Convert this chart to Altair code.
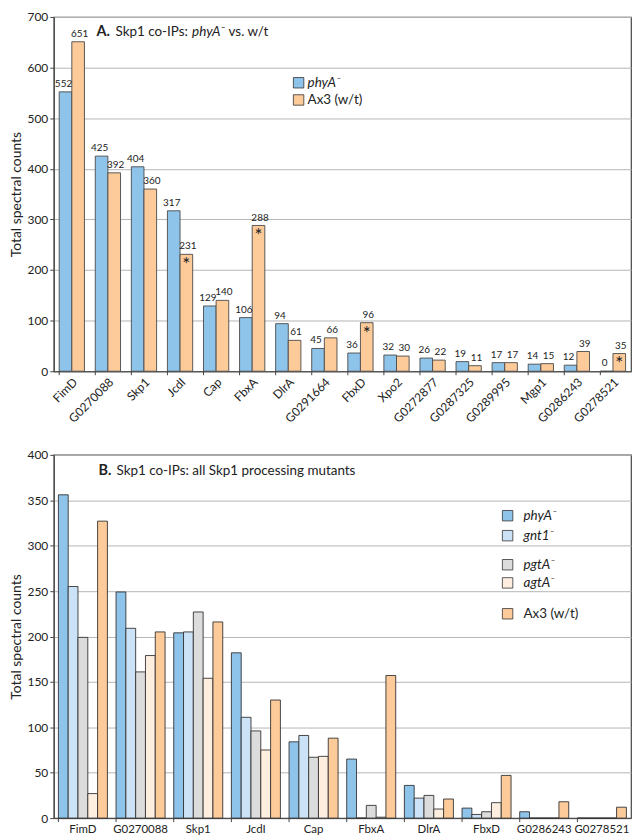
import altair as alt
import pandas as pd

FONT = "Lato"

# ---------------- Panel A data ----------------
cats_A = ["FimD", "G0270088", "Skp1", "JcdI", "Cap", "FbxA", "DlrA", "G0291664",
          "FbxD", "Xpo2", "G0272877", "G0287325", "G0289995", "Mgp1", "G0286243", "G0278521"]
phyA_A = [552, 425, 404, 317, 129, 106, 94, 45, 36, 32, 26, 19, 17, 14, 12, 0]
ax3_A = [651, 392, 360, 231, 140, 288, 61, 66, 96, 30, 22, 11, 17, 15, 39, 35]
asterisk_A = ["JcdI", "FbxA", "FbxD", "G0278521"]
series_A = ["phyA⁻", "Ax3 (w/t)"]

# ---------------- Panel B data ----------------
cats_B = ["FimD", "G0270088", "Skp1", "JcdI", "Cap", "FbxA", "DlrA", "FbxD", "G0286243", "G0278521"]
phyA_B = [356, 249, 204, 182, 84, 65, 36, 11, 7, 0]
gnt1_B = [255, 209, 205, 111, 91, 0, 22, 4, 0, 0]
pgtA_B = [199, 161, 227, 96, 67, 14, 25, 7, 0, 0]
agtA_B = [27, 179, 154, 75, 68, 1, 10, 17, 0, 0]
ax3_B = [327, 205, 216, 130, 88, 157, 21, 47, 18, 12]
series_B = ["phyA⁻", "gnt1⁻", "pgtA⁻", "agtA⁻", "Ax3 (w/t)"]
colors_B = ["#8ec4ea", "#cce2f6", "#dcdcdc", "#fdeee0", "#fdca99"]
colors_A = ["#8ec4ea", "#fdca99"]

W = 580
HA = 356
HB = 365
YTITLE = "Total spectral counts"

# ---------------- Panel A ----------------
nA = len(cats_A)
dfA = pd.DataFrame({
    "cat": cats_A * 2,
    "series": [series_A[0]] * nA + [series_A[1]] * nA,
    "value": phyA_A + ax3_A,
})
dfA["star"] = [(s == series_A[1] and c in asterisk_A) for c, s in zip(dfA["cat"], dfA["series"])]
dfA["first"] = [s == series_A[0] for s in dfA["series"]]

xA = alt.X("cat:N", sort=cats_A, title=None,
           scale=alt.Scale(paddingInner=0.3, paddingOuter=0.15),
           axis=alt.Axis(labelAngle=-45, labelFontSize=12, ticks=False, labelPadding=5,
                         grid=False, domain=True))
xoA = alt.XOffset("series:N", sort=series_A, scale=alt.Scale(paddingInner=0, paddingOuter=0))
axisYA = alt.Axis(values=list(range(0, 701, 100)), title=YTITLE, titleFontSize=14,
                  titlePadding=4, labelFontSize=12, tickSize=4, labelPadding=2)
yA = alt.Y("value:Q", scale=alt.Scale(domain=[0, 700], nice=False), axis=axisYA)
colA = alt.Color("series:N", scale=alt.Scale(domain=series_A, range=colors_A), legend=None)

barsA = alt.Chart(dfA).mark_bar(stroke="#4a4a4a", strokeWidth=0.9).encode(
    x=xA, xOffset=xoA, y=yA, color=colA)
labelsA1 = alt.Chart(dfA).transform_filter("datum.first").mark_text(
    baseline="bottom", dy=-3, dx=-2, fontSize=10, font=FONT, color="#222").encode(
    x=xA, xOffset=xoA, y=yA, text="value:Q")
labelsA2 = alt.Chart(dfA).transform_filter("!datum.first").mark_text(
    baseline="bottom", dy=-3, dx=1.5, fontSize=10, font=FONT, color="#222").encode(
    x=xA, xOffset=xoA, y=yA, text="value:Q")
starsA = alt.Chart(dfA).transform_filter("datum.star").mark_text(
    text="*", baseline="top", dy=2, fontSize=19, font=FONT, color="#222").encode(
    x=xA, xOffset=xoA, y=yA)
ticksA = alt.Chart(pd.DataFrame({"cat": cats_A})).mark_rule(color="#444").encode(
    x=alt.X("cat:N", sort=cats_A, bandPosition=0),
    y=alt.value(HA), y2=alt.value(HA + 4))

legA = pd.DataFrame({"series": series_A, "ly": [570, 536], "italic": [True, False]})
legSqA = alt.Chart(legA).mark_square(size=110, stroke="#333", strokeWidth=0.8, opacity=1).encode(
    x=alt.value(W - 334), y=alt.Y("ly:Q", axis=axisYA), color=colA)
legTxtA_i = alt.Chart(legA).transform_filter("datum.italic").mark_text(
    align="left", baseline="middle", fontSize=13.5, font=FONT, fontStyle="italic", color="#222").encode(
    x=alt.value(W - 325), y=alt.Y("ly:Q", axis=axisYA), text="series:N")
legTxtA_n = alt.Chart(legA).transform_filter("!datum.italic").mark_text(
    align="left", baseline="middle", fontSize=13.5, font=FONT, color="#222").encode(
    x=alt.value(W - 325), y=alt.Y("ly:Q", axis=axisYA), text="series:N")

one = pd.DataFrame({"k": [0]})
tA1 = alt.Chart(one).mark_text(text="A.", align="left", baseline="alphabetic", fontSize=14.5,
                               fontWeight="bold", font=FONT, color="#222").encode(
    x=alt.value(43), y=alt.datum(662))
tA2 = alt.Chart(one).mark_text(text="Skp1 co-IPs:", align="left", baseline="alphabetic", fontSize=13.5,
                               font=FONT, color="#222").encode(x=alt.value(62), y=alt.datum(662))
tA3 = alt.Chart(one).mark_text(text="phyA", align="left", baseline="alphabetic", fontSize=13.5,
                               fontStyle="italic", font=FONT, color="#222").encode(x=alt.value(139), y=alt.datum(662))
tA4 = alt.Chart(one).mark_text(text="⁻ vs. w/t", align="left", baseline="alphabetic", fontSize=13.5,
                               font=FONT, color="#222").encode(x=alt.value(168), y=alt.datum(662))

panelA = alt.layer(barsA, labelsA1, labelsA2, starsA, ticksA, legSqA, legTxtA_i, legTxtA_n,
                   tA1, tA2, tA3, tA4).properties(width=W, height=HA)

# ---------------- Panel B ----------------
nB = len(cats_B)
dfB = pd.DataFrame({
    "cat": cats_B * 5,
    "series": sum([[s] * nB for s in series_B], []),
    "value": phyA_B + gnt1_B + pgtA_B + agtA_B + ax3_B,
})
xB = alt.X("cat:N", sort=cats_B, title=None,
           scale=alt.Scale(paddingInner=0.15, paddingOuter=0.08),
           axis=alt.Axis(labelAngle=0, labelFontSize=11.5, ticks=False, labelPadding=5,
                         grid=False, domain=True))
xoB = alt.XOffset("series:N", sort=series_B, scale=alt.Scale(paddingInner=0, paddingOuter=0))
axisYB = alt.Axis(values=list(range(0, 401, 50)), title=YTITLE, titleFontSize=14,
                  titlePadding=4, labelFontSize=12, tickSize=4, labelPadding=2)
yB = alt.Y("value:Q", scale=alt.Scale(domain=[0, 400], nice=False), axis=axisYB)
colB = alt.Color("series:N", scale=alt.Scale(domain=series_B, range=colors_B), legend=None)

barsB = alt.Chart(dfB).mark_bar(stroke="#333", strokeWidth=0.9).encode(
    x=xB, xOffset=xoB, y=yB, color=colB)
ticksB = alt.Chart(pd.DataFrame({"cat": cats_B})).mark_rule(color="#444").encode(
    x=alt.X("cat:N", sort=cats_B, bandPosition=0),
    y=alt.value(HB), y2=alt.value(HB + 4))

legB = pd.DataFrame({"series": series_B, "ly": [333, 311, 279, 259, 225],
                     "italic": [True, True, True, True, False]})
legSqB = alt.Chart(legB).mark_square(size=110, stroke="#333", strokeWidth=0.8, opacity=1).encode(
    x=alt.value(W - 124), y=alt.Y("ly:Q", axis=axisYB), color=colB)
legTxtB_i = alt.Chart(legB).transform_filter("datum.italic").mark_text(
    align="left", baseline="middle", fontSize=13.5, font=FONT, fontStyle="italic", color="#222").encode(
    x=alt.value(W - 108), y=alt.Y("ly:Q", axis=axisYB), text="series:N")
legTxtB_n = alt.Chart(legB).transform_filter("!datum.italic").mark_text(
    align="left", baseline="middle", fontSize=13.5, font=FONT, color="#222").encode(
    x=alt.value(W - 108), y=alt.Y("ly:Q", axis=axisYB), text="series:N")

tB1 = alt.Chart(one).mark_text(text="B.", align="left", baseline="alphabetic", fontSize=14.5,
                               fontWeight="bold", font=FONT, color="#222").encode(
    x=alt.value(45), y=alt.datum(378))
tB2 = alt.Chart(one).mark_text(text="Skp1 co-IPs: all Skp1 processing mutants", align="left",
                               baseline="alphabetic", fontSize=13.5, font=FONT, color="#222").encode(
    x=alt.value(63), y=alt.datum(378))

panelB = alt.layer(barsB, ticksB, legSqB, legTxtB_i, legTxtB_n, tB1, tB2).properties(width=W, height=HB)

chart = alt.vconcat(panelA, panelB, spacing=22).resolve_scale(
    x="independent", y="independent", color="independent", xOffset="independent"
).properties(padding=0).configure_view(
    stroke="#444", strokeWidth=1.2
).configure_axis(
    gridColor="#b5b5b5", gridWidth=1, domainColor="#444", tickColor="#444",
    labelFont=FONT, titleFont=FONT, labelColor="#222", titleColor="#222",
    titleFontWeight="normal"
)

chart.save("out.html", embed_options={"renderer": "svg", "actions": False})
